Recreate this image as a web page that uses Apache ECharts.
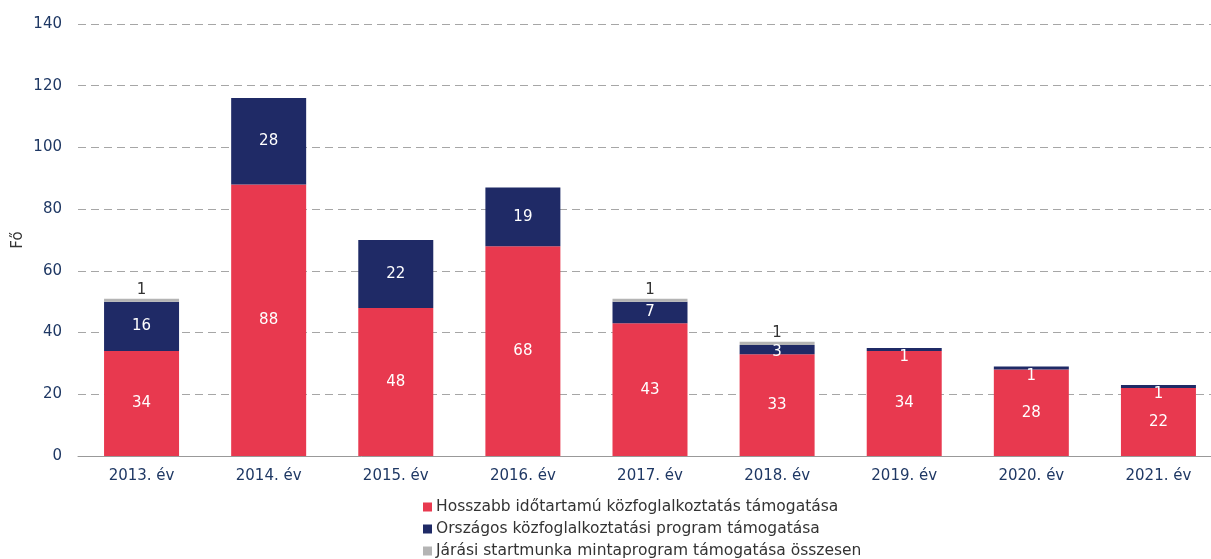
<!DOCTYPE html>
<html>
<head>
<meta charset="utf-8">
<script src="https://cdn.jsdelivr.net/npm/echarts@6/dist/echarts.min.js"></script>
<style>
  html, body { margin: 0; padding: 0; background: #fff; }
  #chart { width: 1211px; height: 559px; }
</style>
</head>
<body>
<div id="chart"></div>
<script>
// adatok
var categories = ['2013. év', '2014. év', '2015. év', '2016. év', '2017. év', '2018. év', '2019. év', '2020. év', '2021. év'];
var hosszabb = [34, 88, 48, 68, 43, 33, 34, 28, 22];
var orszagos = [16, 28, 22, 19, 7, 3, 1, 1, 1];
var jarasi = [1, 0, 0, 0, 1, 1, 0, 0, 0];
var seriesNames = [
    'Hosszabb időtartamú közfoglalkoztatás támogatása',
    'Országos közfoglalkoztatási program támogatása',
    'Járási startmunka mintaprogram támogatása összesen'
];

var font = 'DejaVu Sans, Verdana, sans-serif';
var myChart = echarts.init(document.getElementById('chart'));

function hideZero(p) {
    return p.value ? String(p.value) : '';
}

// kis értékeknél a címke a szegmens tetejéhez igazodik
var orszagosData = orszagos.map(function (v) {
    if (v <= 3) {
        return { value: v, label: { position: 'insideTop', distance: v === 3 ? 0 : 2 } };
    }
    return v;
});

var option = {
    backgroundColor: '#fff',
    animation: false,
    textStyle: { fontFamily: font },
    color: ['#E8394F', '#1F2A66', '#B4B4B4'],
    grid: {
        left: 78,
        top: 24,
        width: 1144,
        height: 432,
        containLabel: false,
        outerBoundsMode: 'none'
    },
    legend: {
        orient: 'vertical',
        left: 423,
        top: 499,
        padding: 0,
        itemWidth: 9,
        itemHeight: 9,
        itemGap: 6,
        icon: 'rect',
        textStyle: { color: '#333', fontSize: 15.5, fontFamily: font, padding: [0, 0, 0, -1] },
        data: seriesNames
    },
    xAxis: {
        type: 'category',
        data: categories,
        axisLine: { lineStyle: { color: '#999', width: 1 } },
        axisTick: { show: false },
        axisLabel: { color: '#1F3864', fontSize: 15, fontFamily: font, margin: 13 }
    },
    yAxis: {
        type: 'value',
        min: 0,
        max: 140,
        interval: 20,
        name: 'Fő',
        nameLocation: 'middle',
        nameGap: 52,
        nameMoveOverlap: false,
        nameTextStyle: { color: '#333', fontSize: 15, fontFamily: font },
        axisLine: { show: false },
        axisTick: { show: false },
        axisLabel: { color: '#1F3864', fontSize: 15, fontFamily: font, margin: 16 },
        splitLine: {
            show: true,
            lineStyle: { color: '#A6A6A6', type: [8, 5], width: 1 }
        }
    },
    series: [
        {
            name: seriesNames[0],
            type: 'bar',
            stack: 'total',
            barWidth: '59%',
            data: hosszabb,
            label: { show: true, position: 'inside', color: '#fff', fontSize: 15, fontFamily: font }
        },
        {
            name: seriesNames[1],
            type: 'bar',
            stack: 'total',
            data: orszagosData,
            label: { show: true, position: 'inside', color: '#fff', fontSize: 15, fontFamily: font }
        },
        {
            name: seriesNames[2],
            type: 'bar',
            stack: 'total',
            data: jarasi,
            label: {
                show: true,
                position: 'top',
                distance: 1,
                color: '#333',
                fontSize: 15,
                fontFamily: font,
                formatter: hideZero
            }
        }
    ]
};

myChart.setOption(option);
</script>
</body>
</html>
